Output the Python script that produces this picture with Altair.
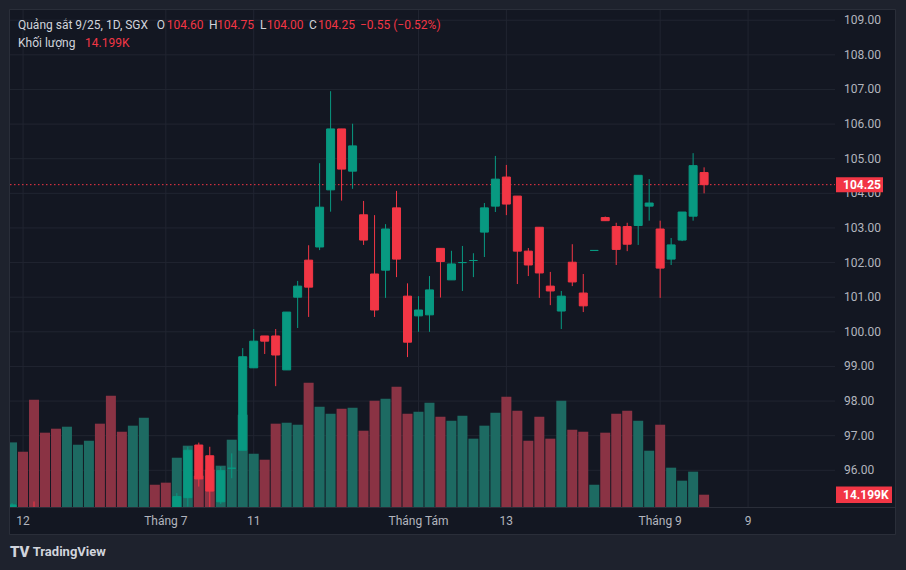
import altair as alt
import pandas as pd

# ---------------- data ----------------
opens = [94.10, 94.70, 94.60, 93.90, 93.60, 93.20, 93.70, 94.00, 94.40, 93.80,
         93.00, 92.80, 93.40, 94.10, 93.90, 93.80, 95.21, 96.73, 96.42, 95.09,
         96.06, 96.58, 98.96, 99.88, 99.88, 98.90, 101.00, 102.07, 102.45, 104.10,
         105.86, 104.64, 103.38, 101.67, 101.78, 103.58, 101.03, 100.46, 100.49, 102.41,
         101.50, 102.00, 102.06, 102.88, 103.63, 104.47, 103.92, 102.33, 103.02, 101.32,
         100.60, 102.01, 101.12, 102.35, 103.30, 103.04, 103.04, 103.07, 103.63, 102.97,
         102.10, 102.65, 103.34, 104.60]
highs = [95.05, 94.85, 95.10, 94.20, 93.90, 94.00, 94.30, 94.60, 94.70, 94.00,
         93.40, 93.60, 94.30, 94.40, 94.20, 95.34, 96.68, 96.80, 96.68, 96.10,
         96.49, 99.53, 100.08, 99.88, 100.08, 100.57, 101.47, 102.50, 104.87, 106.95,
         105.86, 106.01, 103.78, 103.37, 103.11, 104.07, 101.40, 101.03, 101.61, 102.41,
         102.34, 102.48, 102.27, 103.72, 105.08, 104.82, 103.92, 102.42, 103.02, 101.73,
         101.18, 102.53, 101.67, 102.35, 103.33, 103.15, 103.15, 104.52, 104.41, 103.21,
         102.71, 103.46, 105.16, 104.75]
lows = [93.90, 94.00, 93.80, 93.30, 93.00, 93.00, 93.50, 93.80, 93.60, 92.80,
        92.50, 92.60, 93.20, 93.70, 93.60, 93.70, 94.95, 95.53, 94.90, 95.03,
        95.77, 96.58, 98.96, 99.36, 98.43, 98.90, 100.11, 100.43, 102.36, 103.47,
        103.79, 104.13, 102.51, 100.43, 100.98, 101.58, 99.27, 100.00, 100.00, 100.99,
        101.50, 101.18, 101.58, 102.16, 103.46, 103.37, 101.38, 101.61, 100.98, 100.77,
        100.08, 101.32, 100.57, 102.35, 103.21, 101.93, 102.33, 102.51, 103.21, 100.98,
        101.93, 102.62, 103.21, 104.00]
closes = [95.00, 94.20, 94.00, 93.50, 93.20, 93.80, 94.10, 94.40, 93.80, 93.00,
          92.80, 93.40, 94.10, 93.90, 93.80, 95.24, 96.58, 95.75, 95.40, 95.99,
          96.06, 99.28, 99.73, 99.73, 99.33, 100.57, 101.32, 101.29, 103.60, 105.86,
          104.70, 105.37, 102.65, 100.63, 102.97, 102.10, 99.70, 100.63, 101.21, 102.03,
          101.96, 102.00, 102.06, 103.58, 104.41, 103.69, 102.33, 101.93, 101.70, 101.18,
          101.03, 101.44, 100.75, 102.35, 103.21, 102.38, 102.53, 104.52, 103.72, 101.84,
          102.51, 103.46, 104.80, 104.25]
volumes_k = [74.6, 63.8, 123.9, 85.8, 90.4, 92.7, 71.9, 76.5, 96.2, 128.5,
             86.9, 93.9, 103.1, 25.7, 28.1, 56.9, 70.8, 36.1, 43.1, 47.7,
             77.7, 106.6, 61.5, 54.6, 96.2, 97.3, 95.0, 143.5, 115.8, 107.7,
             113.5, 114.6, 88.1, 122.7, 125.0, 138.9, 107.7, 110.0, 120.4, 104.3,
             99.6, 105.4, 78.9, 93.9, 108.9, 127.3, 111.2, 76.5, 104.3, 78.9,
             122.7, 89.2, 86.9, 25.7, 85.8, 107.7, 111.2, 99.6, 65.0, 95.0,
             45.4, 30.4, 40.8, 14.199]

x_ticks = [1, 14, 22, 37, 45, 59, 67]
x_tick_labels = ["12", "Tháng 7", "11", "Tháng Tám", "13", "Tháng 9", "9"]
price_ticks = [96, 97, 98, 99, 100, 101, 102, 103, 104, 105, 106, 107, 108, 109]

symbol_title = "Quảng sắt 9/25, 1D, SGX"
volume_title = "Khối lượng"

# ---------------- style ----------------
W, H = 825, 497
BG = "#131722"
OUTER = "#1e222d"
BORDER = "#2a2e39"
GRID = "#212531"
UP = "#089981"
DOWN = "#f23645"
VOL_UP = "#1d6a62"
VOL_DOWN = "#8a3344"
TXT = "#d1d4dc"
AXT = "#b2b5be"
FONT = "Roboto"

df = pd.DataFrame({
    "i": list(range(len(opens))),
    "open": opens, "high": highs, "low": lows, "close": closes, "vol": volumes_k,
})
xt_df = pd.DataFrame({"i": x_ticks, "t": x_tick_labels})
pt_df = pd.DataFrame({"p": price_ticks, "t": [f"{p:.2f}" for p in price_ticks]})

xs = alt.Scale(domain=[0.27, 74.46], nice=False, zero=False)
ps = alt.Scale(domain=[94.94, 109.295], nice=False, zero=False)
vs = alt.Scale(domain=[0, 573.8], nice=False, zero=True)

X = alt.X("i:Q", scale=xs, axis=None)
up_cond = "datum.close >= datum.open"
base = alt.Chart(df)

# grid + axis labels (as marks)
x_grid = alt.Chart(xt_df).mark_rule(color=GRID, strokeWidth=1).encode(
    x=X, y=alt.value(0), y2=alt.value(H))
x_labels = alt.Chart(xt_df).mark_text(align="center", baseline="middle", color=AXT,
                                       font=FONT, fontSize=12, clip=False).encode(
    x=X, y=alt.value(H + 14), text="t:N")

# volume
vol_bars = base.mark_bar(size=10, clip=True).encode(
    x=X,
    y=alt.Y("vol:Q", scale=vs, axis=None),
    color=alt.condition(up_cond, alt.value(VOL_UP), alt.value(VOL_DOWN)),
)
last_vol = pd.DataFrame({"v": [volumes_k[-1]], "t": [f"{volumes_k[-1]:.3f}K"]})
vol_box = alt.Chart(last_vol).mark_rect(color=DOWN, clip=False, yOffset=-8.3, y2Offset=8.3).encode(
    x=alt.value(W + 1), x2=alt.value(W + 57),
    y=alt.Y("v:Q", scale=vs, axis=None), y2=alt.Y2("v:Q"),
)
vol_txt = alt.Chart(last_vol).mark_text(align="left", baseline="middle", color="#ffffff",
                                         font=FONT, fontSize=12, fontWeight="bold", clip=False).encode(
    x=alt.value(W + 8), y=alt.Y("v:Q", scale=vs, axis=None), text="t:N",
)

# price
PY = lambda f: alt.Y(f, scale=ps, axis=None)
p_grid = alt.Chart(pt_df).mark_rule(color=GRID, strokeWidth=1).encode(
    x=alt.value(0), x2=alt.value(W), y=PY("p:Q"))
p_labels = alt.Chart(pt_df).mark_text(align="left", baseline="middle", color=AXT,
                                       font=FONT, fontSize=12, clip=False).encode(
    x=alt.value(W + 9), y=PY("p:Q"), text="t:N")

last_px = pd.DataFrame({"p": [closes[-1]], "t": [f"{closes[-1]:.2f}"]})
price_line = alt.Chart(last_px).mark_rule(color=DOWN, strokeDash=[1.5, 2.5], strokeWidth=1).encode(
    x=alt.value(0), x2=alt.value(W), y=PY("p:Q"))
wicks = base.mark_rule(strokeWidth=1, clip=True).encode(
    x=X, y=PY("low:Q"), y2="high:Q",
    color=alt.condition(up_cond, alt.value(UP), alt.value(DOWN)),
)
bodies = base.mark_bar(size=8, strokeWidth=1, clip=True).encode(
    x=X, y=PY("open:Q"), y2="close:Q",
    color=alt.condition(up_cond, alt.value(UP), alt.value(DOWN)),
    stroke=alt.condition(up_cond, alt.value(UP), alt.value(DOWN)),
)
px_box = alt.Chart(last_px).mark_rect(color=DOWN, clip=False, yOffset=-7.5, y2Offset=7.5).encode(
    x=alt.value(W + 1), x2=alt.value(W + 48),
    y=PY("p:Q"), y2=alt.Y2("p:Q"),
)
px_txt = alt.Chart(last_px).mark_text(align="left", baseline="middle", color="#ffffff",
                                       font=FONT, fontSize=12, fontWeight="bold", clip=False).encode(
    x=alt.value(W + 8), y=PY("p:Q"), text="t:N",
)

price_layer = alt.layer(p_grid, p_labels, price_line)
volume_layer = alt.layer(vol_bars, vol_box, vol_txt)
candle_layer = alt.layer(wicks, bodies, px_box, px_txt)

# decorations (frame)
one = pd.DataFrame({"k": [0]})
def strip(x1, x2, y1, y2):
    return alt.Chart(one).mark_rect(color=OUTER, clip=False).encode(
        x=alt.value(x1), x2=alt.value(x2), y=alt.value(y1), y2=alt.value(y2))

frame = alt.Chart(one).mark_rect(filled=False, stroke=BORDER, strokeWidth=1, clip=False).encode(
    x=alt.value(-0.5), x2=alt.value(885.5), y=alt.value(-0.5), y2=alt.value(524.5))
xsep = alt.Chart(one).mark_rule(color=BORDER, strokeWidth=1).encode(
    x=alt.value(0), x2=alt.value(885), y=alt.value(H + 0.5))

def txt(s, x, y, color=TXT, size=12, weight="normal"):
    return alt.Chart(one).mark_text(text=s, align="left", baseline="middle", color=color,
                                    font=FONT, fontSize=size, fontWeight=weight, clip=False).encode(
        x=alt.value(x), y=alt.value(y))

o, h, l, c = opens[-1], highs[-1], lows[-1], closes[-1]
chg = c - closes[-2]
pct = chg / closes[-2] * 100
sign = "−" if chg < 0 else "+"
header = [
    txt(symbol_title, 8, 15),
    txt("O", 146.7, 15), txt(f"{o:.2f}", 156.7, 15, DOWN),
    txt("H", 199, 15), txt(f"{h:.2f}", 207, 15, DOWN),
    txt("L", 250, 15), txt(f"{l:.2f}", 256.7, 15, DOWN),
    txt("C", 299, 15), txt(f"{c:.2f}", 308, 15, DOWN),
    txt(f"{sign}{abs(chg):.2f} ({sign}{abs(pct):.2f}%)", 350, 15, DOWN),
    txt(volume_title, 8, 32.5),
    txt(f"{volumes_k[-1]:.3f}K", 75, 32.5, DOWN),
    txt("TV", 0, 541.5, TXT, 15, 900),
    txt("TradingView", 22.7, 541.7, TXT, 13, "bold"),
]

chart = alt.layer(
    strip(-10, 896, -10, 0), strip(-10, 0, -10, 560), strip(885, 896, -10, 560), strip(-10, 896, 524, 560),
    frame, xsep, x_grid, x_labels,
    price_layer, volume_layer, candle_layer,
    *header,
).resolve_scale(y="independent").properties(
    width=W, height=H,
    background=BG,
    padding={"left": 10, "top": 10, "right": 71, "bottom": 63},
    autosize=alt.AutoSizeParams(type="none"),
).configure_view(stroke=None)

chart.save("out.html", embed_options={"renderer": "svg", "actions": False})
